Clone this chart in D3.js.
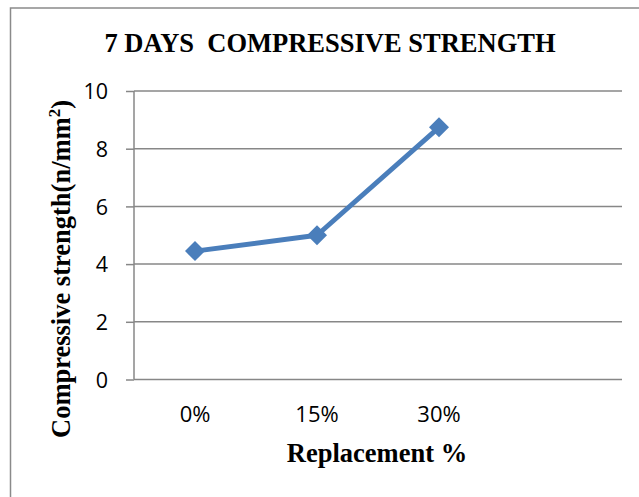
<!DOCTYPE html>
<html><head><meta charset="utf-8">
<script src="https://cdn.jsdelivr.net/npm/d3@7"></script>
<style>body{margin:0;background:#fff}</style>
</head><body>
<svg id="c" width="639" height="497"></svg>
<script>
const categories = ["0%", "15%", "30%", ""];
const strength = [4.45, 5.0, 8.74];
const yTicks = [0, 2, 4, 6, 8, 10];
const title = "7 DAYS\u00a0\u00a0COMPRESSIVE STRENGTH";
const xTitle = "Replacement %";

(function () {
const svg = d3.select("#c");
const grid = "#878787", blue = "#4a7ebb";
const serif = "'Liberation Serif','Times New Roman',serif";
const sans = "'Open Sans',sans-serif";

// outer frame (extends past the picture edges)
svg.append("rect").attr("x", 10.5).attr("y", 8).attr("width", 700).attr("height", 600)
  .attr("fill", "none").attr("stroke", "#8a8a8a").attr("stroke-width", 1.5);

const pL = 134, pR = 622, pT = 91, pB = 379.5;
const x = d3.scaleBand().domain(categories).range([pL, pR]);
const y = d3.scaleLinear().domain([0, 10]).range([pB, pT]);

// y axis with gridlines
const yAxis = svg.append("g").attr("transform", `translate(${pL},0)`)
  .call(d3.axisLeft(y).tickValues(yTicks).tickSize(8).tickPadding(18));
yAxis.select(".domain").remove();
yAxis.selectAll(".tick line").attr("stroke", grid).attr("stroke-width", 1.5);
yAxis.selectAll(".tick text").attr("font-family", sans).attr("font-size", 21.5).attr("fill", "#000")
  .attr("dy", "0.36em");
svg.append("g").selectAll("line").data(yTicks).join("line")
  .attr("x1", pL).attr("x2", pR).attr("y1", d => y(d)).attr("y2", d => y(d))
  .attr("stroke", grid).attr("stroke-width", 1.5);
svg.append("line").attr("x1", pL).attr("x2", pL).attr("y1", pT).attr("y2", pB)
  .attr("stroke", grid).attr("stroke-width", 1.5);

// x axis labels
const xAxis = svg.append("g").attr("transform", `translate(0,${pB})`)
  .call(d3.axisBottom(x).tickSize(0).tickPadding(27));
xAxis.select(".domain").remove();
xAxis.selectAll(".tick text").attr("font-family", sans).attr("font-size", 22).attr("fill", "#000");

// line + markers
const data = strength.map((v, i) => ({c: categories[i], v}));
const cx = d => x(d.c) + x.bandwidth() / 2;
svg.append("path").datum(data)
  .attr("d", d3.line().x(cx).y(d => y(d.v)))
  .attr("fill", "none").attr("stroke", blue).attr("stroke-width", 5).attr("stroke-linejoin", "round");
svg.append("g").selectAll("path").data(data).join("path")
  .attr("d", d3.symbol().type(d3.symbolSquare).size(200))
  .attr("transform", d => `translate(${cx(d)},${y(d.v)}) rotate(45)`)
  .attr("fill", blue);

// titles
svg.append("text").attr("x", 330).attr("y", 52).attr("text-anchor", "middle")
  .attr("font-family", serif).attr("font-weight", "bold").attr("font-size", 26.5)
  .attr("fill", "#000").text(title);
svg.append("text").attr("x", 377).attr("y", 462).attr("text-anchor", "middle")
  .attr("font-family", serif).attr("font-weight", "bold").attr("font-size", 26.5)
  .attr("fill", "#000").text(xTitle);
const yl = svg.append("text").attr("transform", "translate(70,269) rotate(-90)")
  .attr("text-anchor", "middle")
  .attr("font-family", serif).attr("font-weight", "bold").attr("font-size", 26.5).attr("fill", "#000");
yl.append("tspan").text("Compressive strength(n/mm");
yl.append("tspan").attr("font-size", 17).attr("dy", -10).text("2");
yl.append("tspan").attr("dy", 10).text(")");
})();
</script>
</body></html>
